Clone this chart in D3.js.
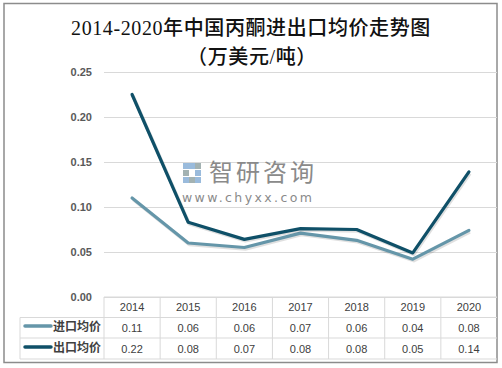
<!DOCTYPE html>
<html><head><meta charset="utf-8">
<script src="https://cdn.jsdelivr.net/npm/d3@7"></script>
<style>body{margin:0;background:#fff}svg{display:block}</style>
</head><body>
<svg id="c" width="502" height="368"></svg>
<script>
const years = ["2014","2015","2016","2017","2018","2019","2020"];
const importPrice = [0.110, 0.060, 0.055, 0.071, 0.063, 0.042, 0.074];
const exportPrice = [0.225, 0.083, 0.064, 0.076, 0.075, 0.049, 0.139];
const importLabels = ["0.11","0.06","0.06","0.07","0.06","0.04","0.08"];
const exportLabels = ["0.22","0.08","0.07","0.08","0.08","0.05","0.14"];
const yTicks = [0, 0.05, 0.10, 0.15, 0.20, 0.25];
const seriesNames = ["进口均价","出口均价"];
const colors = ["#6596a9","#0f5068"];

const svg = d3.select("#c");
const L = 104, R = 497, T = 72, B = 297;
const x = d3.scaleBand().domain(years).range([L, R]);
const y = d3.scaleLinear().domain([0, 0.25]).range([B, T]);

// border
svg.append("rect").attr("x",4).attr("y",3.5).attr("width",493).attr("height",359)
  .attr("fill","none").attr("stroke","#8c8c8c").attr("stroke-width",1.5);

// title
const titleFont = "'Liberation Serif', 'Noto Sans CJK SC', serif";
svg.append("text").attr("x",251).attr("y",35).attr("text-anchor","middle")
  .attr("font-family",titleFont).attr("font-size",20).attr("font-weight",500)
  .attr("letter-spacing",0.6).attr("fill","#111").text("2014-2020年中国丙酮进出口均价走势图");
svg.append("text").attr("x",252).attr("y",64).attr("text-anchor","middle")
  .attr("font-family",titleFont).attr("font-size",20).attr("font-weight",500)
  .attr("letter-spacing",0.6).attr("fill","#111").text("（万美元/吨）");

// grid
const yAxis = d3.axisLeft(y).tickValues(yTicks).tickSize(-(R-L)).tickFormat(d3.format(".2f")).tickPadding(12);
const ga = svg.append("g").attr("transform",`translate(${L},0)`).call(yAxis);
ga.select(".domain").remove();
ga.selectAll(".tick line").attr("stroke","#d9d9d9").attr("stroke-width",1);
ga.selectAll(".tick text").attr("font-family","'Liberation Sans', Arial, sans-serif")
  .attr("font-size",11).attr("fill","#595959").attr("font-weight","bold");

// watermark
const wm = svg.append("g");
const logo = [[183,163,"#8fb4d8"],[189,163,"#8fb4d8"],[195,163,"#9aa"],[183,170,"#9aa"],[195,170,"#8fb4d8"],[183,177,"#8fb4d8"],[189,177,"#9aa"],[195,177,"#8fb4d8"]];
logo.forEach(d=>wm.append("rect").attr("x",d[0]).attr("y",d[1]).attr("width",6).attr("height",6).attr("fill",d[2]).attr("opacity",0.9));
wm.append("text").attr("x",209).attr("y",181).attr("font-family","'Noto Sans CJK SC', sans-serif")
  .attr("font-size",24).attr("fill","#8a8a8a").attr("letter-spacing",3).text("智研咨询");
wm.append("text").attr("x",182).attr("y",202).attr("font-family","'DejaVu Sans', sans-serif")
  .attr("font-size",12.5).attr("fill","#8a8a8a").attr("letter-spacing",2.4).text("www.chyxx.com");

// lines
const line = d3.line().x((d,i)=>x(years[i])+x.bandwidth()/2).y(d=>y(d));
[importPrice, exportPrice].forEach((s,k)=>{
  svg.append("path").datum(s).attr("d",line).attr("fill","none")
    .attr("stroke","#000").attr("stroke-opacity",0.12).attr("stroke-width",3.5)
    .attr("transform","translate(1,1.5)").attr("stroke-linejoin","round");
  svg.append("path").datum(s).attr("d",line).attr("fill","none")
    .attr("stroke",colors[k]).attr("stroke-width",3.2).attr("stroke-linejoin","round").attr("stroke-linecap","round");
});

// table
const rowY = [297, 317.5, 338, 359];
const tg = svg.append("g").attr("stroke","#d9d9d9").attr("stroke-width",1);
tg.append("line").attr("x1",L).attr("x2",R).attr("y1",rowY[0]).attr("y2",rowY[0]);
[1,2,3].forEach(i=>tg.append("line").attr("x1",20).attr("x2",R).attr("y1",rowY[i]).attr("y2",rowY[i]));
tg.append("line").attr("x1",20).attr("x2",20).attr("y1",rowY[1]).attr("y2",rowY[3]);
years.forEach(yr=>tg.append("line").attr("x1",x(yr)).attr("x2",x(yr)).attr("y1",rowY[0]).attr("y2",rowY[3]));

const tf = "'Liberation Sans', Arial, sans-serif";
years.forEach((yr,i)=>{
  const cx = x(yr)+x.bandwidth()/2;
  svg.append("text").attr("x",cx).attr("y",311).attr("text-anchor","middle").attr("font-family",tf)
    .attr("font-size",11).attr("fill","#404040").text(yr);
  svg.append("text").attr("x",cx).attr("y",332).attr("text-anchor","middle").attr("font-family",tf)
    .attr("font-size",11).attr("fill","#404040").text(importLabels[i]);
  svg.append("text").attr("x",cx).attr("y",353).attr("text-anchor","middle").attr("font-family",tf)
    .attr("font-size",11).attr("fill","#404040").text(exportLabels[i]);
});
seriesNames.forEach((n,k)=>{
  const cy = k===0 ? 326 : 347;
  svg.append("line").attr("x1",25).attr("x2",51).attr("y1",cy).attr("y2",cy)
    .attr("stroke",colors[k]).attr("stroke-width",3.5).attr("stroke-linecap","round");
  svg.append("text").attr("x",53).attr("y",cy+4.5).attr("font-family","'Noto Sans CJK SC', sans-serif")
    .attr("font-size",12).attr("font-weight","bold").attr("fill","#404040").text(n);
});
</script>
</body></html>
